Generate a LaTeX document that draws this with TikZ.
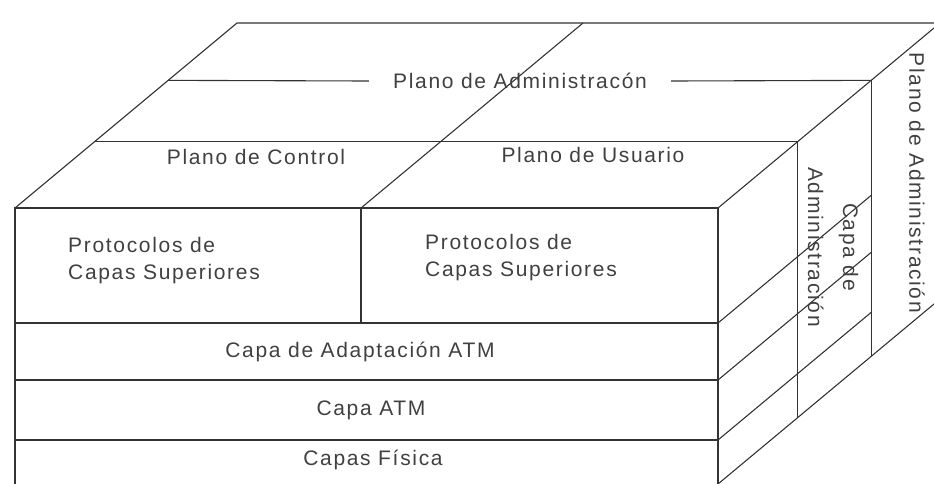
\documentclass[tikz,border=0pt]{standalone}
\usepackage{fontspec}
\setmainfont[LetterSpace=8]{Liberation Sans}
\usetikzlibrary{calc}
\tikzset{
  link/.style = {color=#1, line width=1.1pt},
  txt/.style = {text=#1, font=\fontsize{21}{27}\selectfont, inner sep=0pt},
  vtxt/.style = {txt={#1}, rotate=-90, align=center},
  gap/.style = {txt={#1}, inner xsep=24pt}
}

\begin{document}
\begin{tikzpicture}[x=1pt, y=-1pt]

    \useasboundingbox (0,0) rectangle (934,483);

    \def\ta{0.36}
    \def\tb{0.69}

    % Coordinates
    \coordinate (d) at (222,-185);
    \coordinate (A) at (15,208);
    \coordinate (B) at (718,208);
    \coordinate (C) at (15,484);
    \coordinate (D) at (718,484);
    \coordinate (M) at (361,208);
    \coordinate (N) at (361,323);
    \coordinate (L1) at (15,323);
    \coordinate (R1) at (718,323);
    \coordinate (L2) at (15,380);
    \coordinate (R2) at (718,380);
    \coordinate (L3) at (15,440);
    \coordinate (R3) at (718,440);

    % Front
    \draw[link={black!80}] (C) -- (A) -- (B) -- (D);
    \draw[link={black!80}] (M) -- (N);
    \draw[link={black!80}] (L1) -- (R1);
    \draw[link={black!80}] (L2) -- (R2);
    \draw[link={black!80}] (L3) -- (R3);

    % Top
    \draw[link={black!80}] (A) -- ($(A)+(d)$) -- ($(B)+(d)$) -- (B);
    \draw[link={black!80}] (M) -- ($(M)+(d)$);
    \draw[link={black!80}] ($(A)+\ta*(d)$) -- ($(B)+\ta*(d)$);

    % Side
    \draw[link={black!80}] ($(B)+\ta*(d)$) -- ($(D)+\ta*(d)$);
    \draw[link={black!80}] ($(B)+\tb*(d)$) -- ($(D)+\tb*(d)$);
    \foreach \p in {R1,R2,R3} {
        \draw[link={black!80}] (\p) -- ($(\p)+\tb*(d)$);
    }
    \draw[link={black!80}] (D) -- ($(D)+(d)$);

    % Labels
    \node[gap={black!75}] (adm) at (520,81) {Plano de Administracón};
    \draw[link={black!80}] ($(A)+\tb*(d)$) -- (adm.west);
    \draw[link={black!80}] (adm.east) -- ($(B)+\tb*(d)$);
    \node[txt={black!75}] (ctrl) at (256,157) {Plano de Control};
    \node[txt={black!75}] (usr) at (593,155) {Plano de Usuario};
    \node[txt={black!75}, anchor=west, align=left] (protoA) at (68,261) {Protocolos de\\Capas Superiores};
    \node[txt={black!75}, anchor=west, align=left] (protoB) at (425,258) {Protocolos de\\Capas Superiores};
    \node[txt={black!75}] (aal) at (360,352) {Capa de Adaptación ATM};
    \node[txt={black!75}] (atm) at (371,410) {Capa ATM};
    \node[txt={black!75}] (phy) at (373,460) {Capas Física};
    \node[vtxt={black!75}] (capadm) at (833,247) {Capa de\\[8pt]Administración};
    \node[vtxt={black!75}] (pladm) at (917,183) {Plano de Administración};

\end{tikzpicture}
\end{document}
